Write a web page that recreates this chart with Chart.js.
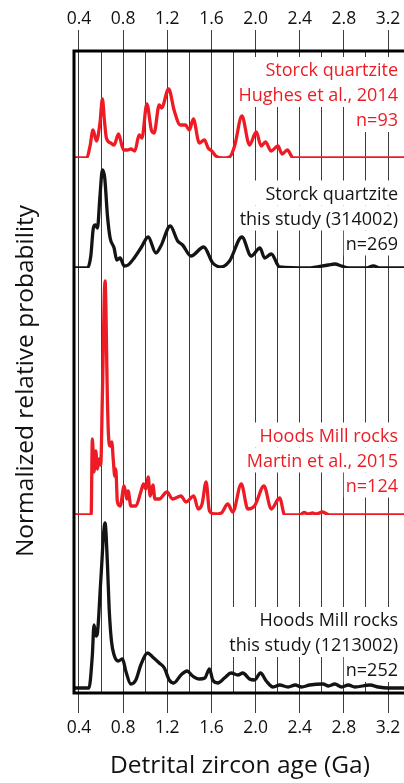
<!DOCTYPE html>
<html>
<head>
<meta charset="utf-8">
<title>Detrital zircon age spectra</title>
<script src="https://cdn.jsdelivr.net/npm/chart.js@4.4.1/dist/chart.umd.min.js"></script>
<style>
  html, body { margin: 0; padding: 0; background: #fff; overflow: hidden; }
  #wrap { width: 404px; height: 783px; overflow: hidden; }
  canvas { display: block; }
</style>
</head>
<body>
<div id="wrap"><canvas id="chart" width="430" height="783"></canvas></div>
<script>
// tick labels (Ga) and the finer vertical grid
const tickAges = [0.4, 0.8, 1.2, 1.6, 2.0, 2.4, 2.8, 3.2];
const gridAges = [0.4, 0.6, 0.8, 1.0, 1.2, 1.4, 1.6, 1.8, 2.0, 2.2, 2.4, 2.6, 2.8, 3.0, 3.2];

// Storck quartzite, Hughes et al., 2014 (n=93)
const storckHughesAge = [0.355, 0.47, 0.50, 0.527, 0.558, 0.59, 0.612, 0.63, 0.648, 0.688, 0.718, 0.758, 0.803, 0.84, 0.87, 0.906, 0.945, 0.97, 1.015, 1.058, 1.08, 1.127, 1.148, 1.212, 1.264, 1.318, 1.364, 1.40, 1.436, 1.49, 1.536, 1.57, 1.603, 1.64, 1.70, 1.764, 1.81, 1.876, 1.945, 2.006, 2.05, 2.09, 2.14, 2.203, 2.24, 2.288, 2.34, 3.6];
const storckHughesProb = [0, 0, 1.2, 2.8, 1.7, 3.5, 5.9, 3.8, 2.0, 1.5, 1.3, 2.4, 0.8, 0.8, 0.9, 0.7, 2.3, 2.0, 5.4, 2.7, 2.5, 5.3, 5.0, 6.9, 4.7, 3.3, 3.3, 2.8, 3.9, 1.5, 1.8, 1.0, 0.7, 0.2, 0, 0.1, 1.2, 4.2, 1.3, 2.6, 1.2, 1.6, 0.7, 1.2, 0.4, 0.8, 0, 0];

// Storck quartzite, this study 314002 (n=269)
const storckStudyAge = [0.355, 0.476, 0.507, 0.53, 0.548, 0.567, 0.59, 0.612, 0.633, 0.658, 0.682, 0.718, 0.742, 0.773, 0.809, 0.845, 0.9, 0.961, 1.027, 1.097, 1.142, 1.227, 1.294, 1.339, 1.415, 1.53, 1.612, 1.688, 1.764, 1.876, 1.96, 2.04, 2.082, 2.142, 2.218, 2.476, 2.658, 2.718, 2.779, 2.84, 3.0, 3.067, 3.13, 3.6];
const storckStudyProb = [0, 0, 1.2, 4.0, 4.3, 4.0, 7.2, 9.8, 9.0, 5.2, 3.0, 2.0, 0.8, 1.0, 0.2, 0.3, 1.0, 2.0, 3.1, 1.5, 2.2, 4.2, 2.7, 2.3, 1.2, 2.1, 0.5, 0.1, 0.7, 3.1, 1.2, 2.0, 1.0, 1.4, 0.1, 0, 0.3, 0.4, 0.2, 0, 0, 0.2, 0, 0];

// Hoods Mill rocks, Martin et al., 2015 (n=124)
const hoodsMartinAge = [0.355, 0.51, 0.521, 0.536, 0.552, 0.567, 0.582, 0.597, 0.612, 0.636, 0.658, 0.667, 0.682, 0.697, 0.712, 0.724, 0.733, 0.748, 0.773, 0.809, 0.833, 0.845, 0.87, 0.915, 0.96, 0.985, 1.006, 1.027, 1.045, 1.07, 1.088, 1.127, 1.197, 1.248, 1.324, 1.37, 1.44, 1.48, 1.515, 1.552, 1.582, 1.63, 1.69, 1.748, 1.794, 1.87, 1.93, 1.99, 2.076, 2.142, 2.218, 2.264, 2.40, 2.439, 2.475, 2.515, 2.55, 2.606, 2.67, 3.6];
const hoodsMartinProb = [0, 0, 7.6, 4.3, 6.4, 4.6, 5.6, 5.0, 12.0, 23.4, 11.3, 8.0, 6.9, 7.3, 5.3, 3.9, 4.6, 1.3, 0.9, 2.9, 1.6, 2.4, 0.9, 0.9, 2.3, 3.1, 2.6, 3.8, 1.9, 3.0, 1.6, 1.6, 2.3, 1.6, 1.9, 1.3, 1.9, 0.6, 1.1, 3.3, 0.4, 0.1, 0.2, 1.1, 0.3, 3.1, 0.6, 0.9, 2.9, 0.6, 1.7, 0, 0, 0.25, 0.1, 0.2, 0.1, 0.3, 0, 0];

// Hoods Mill rocks, this study 1213002 (n=252)
const hoodsStudyAge = [0.355, 0.49, 0.521, 0.536, 0.555, 0.567, 0.597, 0.636, 0.658, 0.673, 0.694, 0.718, 0.755, 0.794, 0.824, 0.87, 0.915, 0.96, 1.021, 1.067, 1.127, 1.173, 1.218, 1.258, 1.324, 1.379, 1.43, 1.491, 1.54, 1.582, 1.612, 1.658, 1.718, 1.779, 1.84, 1.885, 1.945, 1.99, 2.045, 2.097, 2.158, 2.218, 2.294, 2.36, 2.415, 2.49, 2.612, 2.66, 2.718, 2.78, 2.84, 2.9, 3.036, 3.112, 3.2, 3.6];
const hoodsStudyProb = [0, 0, 3.3, 6.3, 5.2, 5.5, 10.7, 16.5, 12.3, 8.0, 4.7, 3.3, 2.7, 2.9, 1.7, 0.4, 0.8, 2.3, 3.5, 3.1, 2.5, 2.0, 0.8, 0.5, 1.3, 1.7, 1.2, 0.9, 1.0, 1.9, 0.8, 0.5, 1.0, 1.5, 1.3, 1.5, 0.9, 0.8, 1.5, 0.7, 0.1, 0.3, 0.1, 0.3, 0.1, 0.3, 0.4, 0.2, 0.4, 0.1, 0.3, 0.1, 0.3, 0.1, 0, 0];

// sample labels, top to bottom
const panelLabels = [
  ['Storck quartzite', 'Hughes et al., 2014', 'n=93'],
  ['Storck quartzite', 'this study (314002)', 'n=269'],
  ['Hoods Mill rocks', 'Martin et al., 2015', 'n=124'],
  ['Hoods Mill rocks', 'this study (1213002)', 'n=252']
];

const RED = '#ed1c24';
const BLACK = '#141414';
const GRID = '#3c3c3c';
const labelColors = [RED, BLACK, RED, BLACK];
const labelBaseline = [76, 199.5, 441.5, 626];   // first line of each block
const LINE_STEP = 25;
const TEXT_RIGHT = 398;

const X_MIN = 0.3547, X_MAX = 3.526;

Chart.defaults.font.family = "'Open Sans', sans-serif";
Chart.defaults.color = '#111';

function pts(ages, probs) {
  return ages.map((a, i) => ({ x: a, y: probs[i] }));
}
function isLabelled(v) {
  return tickAges.some(t => Math.abs(t - v) < 1e-6);
}

// white boxes behind the sample names, then the names themselves
const labelPlugin = {
  id: 'panelLabels',
  beforeDatasetsDraw(chart) {
    const ctx = chart.ctx;
    ctx.save();
    ctx.font = "18px 'Open Sans'";
    ctx.textAlign = 'right';
    ctx.textBaseline = 'alphabetic';
    panelLabels.forEach((lines, p) => {
      const widths = lines.map(t => ctx.measureText(t).width);
      ctx.fillStyle = '#fff';
      lines.forEach((t, i) => {
        const w = Math.max(widths[i], widths[i + 1] || 0);
        const base = labelBaseline[p] + i * LINE_STEP;
        ctx.fillRect(TEXT_RIGHT - w - 2, base - 19, w + 30, 25);
      });
      ctx.fillStyle = labelColors[p];
      lines.forEach((t, i) => ctx.fillText(t, TEXT_RIGHT, labelBaseline[p] + i * LINE_STEP));
    });
    ctx.restore();
  },
  afterDraw(chart) {
    const ctx = chart.ctx;
    const a = chart.chartArea;
    ctx.save();
    // frame (right side runs off the picture)
    ctx.strokeStyle = '#000';
    ctx.lineWidth = 3;
    ctx.beginPath();
    ctx.moveTo(a.right + 20, a.top);
    ctx.lineTo(a.left, a.top);
    ctx.lineTo(a.left, a.bottom);
    ctx.lineTo(a.right + 20, a.bottom);
    ctx.stroke();
    // axis titles
    ctx.fillStyle = '#111';
    ctx.font = "24.5px 'Open Sans'";
    ctx.textAlign = 'center';
    ctx.textBaseline = 'middle';
    ctx.fillText('Detrital zircon age (Ga)', 240, 766);
    ctx.translate(26, 381);
    ctx.rotate(-Math.PI / 2);
    ctx.fillText('Normalized relative probability', 0, 0);
    ctx.restore();
  }
};

function lineSet(ages, probs, color, axis) {
  return {
    data: pts(ages, probs),
    yAxisID: axis,
    borderColor: color,
    borderWidth: 3.3,
    pointRadius: 0,
    fill: false,
    cubicInterpolationMode: 'monotone',
    borderJoinStyle: 'round',
    borderCapStyle: 'round'
  };
}

function ageAxis(position, tickLength, padding, height) {
  return {
    type: 'linear',
    position: position,
    min: X_MIN,
    max: X_MAX,
    afterBuildTicks: s => { s.ticks = gridAges.map(v => ({ value: v })); },
    afterFit: s => { s.height = height; },
    ticks: {
      autoSkip: false,
      maxRotation: 0,
      padding: padding,
      color: '#111',
      font: { size: 17.5 },
      callback: v => isLabelled(v) ? v.toFixed(1) : ''
    },
    grid: {
      drawOnChartArea: position === 'bottom',
      color: GRID,
      lineWidth: 1,
      tickLength: tickLength,
      tickColor: c => isLabelled(c.tick.value) ? GRID : 'rgba(0,0,0,0)'
    },
    border: { display: false }
  };
}

new Chart(document.getElementById('chart'), {
  type: 'line',
  data: {
    datasets: [
      lineSet(storckHughesAge, storckHughesProb, RED, 'yA'),
      lineSet(storckStudyAge, storckStudyProb, BLACK, 'yB'),
      lineSet(hoodsMartinAge, hoodsMartinProb, RED, 'yC'),
      lineSet(hoodsStudyAge, hoodsStudyProb, BLACK, 'yD')
    ]
  },
  options: {
    responsive: false,
    animation: false,
    layout: { padding: { left: 74, right: 6, top: 0, bottom: 0 } },
    plugins: { legend: { display: false }, tooltip: { enabled: false } },
    scales: {
      x: ageAxis('bottom', 20, 5, 90),
      xTop: ageAxis('top', 21, 0, 51),
      // stacked panels, bottom one first
      yD: { type: 'linear', position: 'left', stack: 'panels', stackWeight: 17.8, min: -0.5, max: 17.3, display: false },
      yC: { type: 'linear', position: 'left', stack: 'panels', stackWeight: 24.7, min: 0, max: 24.7, display: false },
      yB: { type: 'linear', position: 'left', stack: 'panels', stackWeight: 11.0, min: 0, max: 11.0, display: false },
      yA: { type: 'linear', position: 'left', stack: 'panels', stackWeight: 10.7, min: 0, max: 10.7, display: false }
    }
  },
  plugins: [labelPlugin]
});
</script>
</body>
</html>
